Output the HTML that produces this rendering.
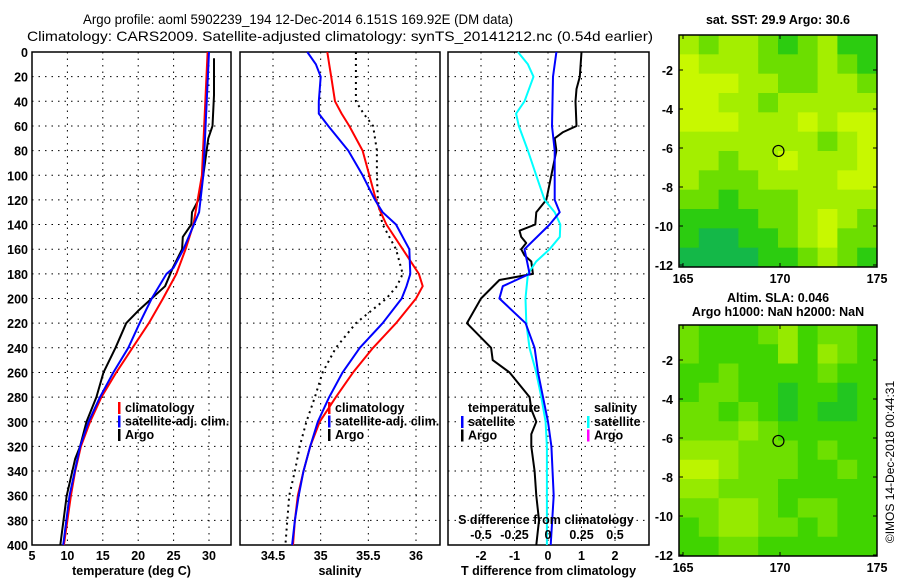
<!DOCTYPE html>
<html><head><meta charset="utf-8">
<style>
html,body{margin:0;padding:0;background:#fff;}
svg{display:block;font-family:"Liberation Sans",sans-serif;}
.t{font-size:12.5px;font-weight:bold;fill:#000;}
.ti{font-size:14px;fill:#000;}
</style></head>
<body>
<svg id="fig" width="900" height="580" viewBox="0 0 900 580" xmlns="http://www.w3.org/2000/svg">
<text class="ti" x="298" y="24" text-anchor="middle" textLength="430" lengthAdjust="spacingAndGlyphs">Argo profile: aoml 5902239_194 12-Dec-2014 6.151S 169.92E (DM data)</text>
<text class="ti" x="340" y="41" text-anchor="middle" textLength="626" lengthAdjust="spacingAndGlyphs">Climatology: CARS2009. Satellite-adjusted climatology: synTS_20141212.nc (0.54d earlier)</text>
<g id="g"></g>
</svg>
<script>
// ---------- data ----------
const depthTicks=[0,20,40,60,80,100,120,140,160,180,200,220,240,260,280,300,320,340,360,380,400];
const tempTicks=[5,10,15,20,25,30];
const salTicks=[34.5,35,35.5,36];
const dTTicks=[-2,-1,0,1,2];
const dSTicks=[-0.5,-0.25,0,0.25,0.5];
const dSTickLabels=['-0.5','-0.25','0','0.25','0.5'];
const lonTicks=[165,170,175];
const latTicks=[-2,-4,-6,-8,-10,-12];

const climTDepth=[0,100,140,160,180,200,220,240,260,280,300,320,340,360,380,400];
const climT=[29.8,29.0,27.8,26.7,25.4,23.5,21.5,19.2,16.9,14.8,13.2,11.9,11.1,10.5,10.0,9.5];
const satTDepth=[0,100,130,160,175,180,200,220,240,260,280,300,320,360,400];
const satT=[30.0,29.2,28.6,26.4,25.0,24.0,21.9,20.2,18.6,16.5,14.6,13.0,11.8,10.3,9.4];
const argoTDepth=[5,35,60,70,100,120,130,140,150,160,175,190,200,210,220,240,260,280,300,320,330,360,400];
const argoT=[30.7,30.7,30.5,29.9,29.2,28.5,27.6,27.5,26.3,26.2,24.9,23.8,21.9,20.0,18.3,16.8,15.1,14.1,12.7,11.8,11.1,9.9,9.0];

const salDepth=[0,10,20,40,50,60,80,100,120,130,140,160,180,190,200,220,240,260,280,300,320,340,360,380,400];
const climS=[35.07,35.09,35.11,35.15,35.22,35.30,35.44,35.51,35.58,35.63,35.69,35.86,36.03,36.07,36.0,35.79,35.55,35.34,35.16,34.99,34.89,34.82,34.76,34.73,34.71];
const satS=[34.86,34.95,35.0,34.98,34.98,35.08,35.29,35.44,35.57,35.65,35.79,35.93,35.94,35.9,35.85,35.65,35.41,35.23,35.09,34.97,34.89,34.82,34.77,34.73,34.70];
const argoS=[35.37,35.37,35.37,35.37,35.45,35.55,35.59,35.59,35.6,35.62,35.65,35.79,35.86,35.8,35.69,35.37,35.16,35.02,34.94,34.85,34.78,34.73,34.67,34.65,34.63];

const dSatTDepth=[0,20,60,80,100,120,130,140,160,180,190,200,220,240,260,280,300,320,360,400];
const dSatT=[0.25,0.15,0.12,0.2,0.2,0.2,0.35,0.05,-0.7,-0.55,-1.35,-1.45,-0.67,-0.4,-0.3,-0.15,0,0.1,0.17,0.08];
const dArgoTDepth=[0,20,30,40,60,65,70,80,120,130,140,145,150,155,160,165,170,180,185,200,220,240,250,260,280,290,300,310,320,340,360,380,400];
const dArgoT=[1.0,0.95,0.85,0.82,0.85,0.45,0.2,0.25,-0.05,-0.35,-0.38,-0.85,-0.8,-0.65,-0.8,-0.7,-0.5,-0.45,-1.45,-2.0,-2.42,-1.7,-1.65,-1.15,-0.55,-0.5,-0.35,-0.5,-0.5,-0.4,-0.35,-0.27,-0.35];
const dSatSDepth=[0,10,20,40,50,60,80,100,120,130,140,150,160,170,180,200,220,240,260,280,300,320,360,400];
const dSatS=[-0.225,-0.15,-0.108,-0.175,-0.238,-0.218,-0.15,-0.088,-0.025,0.05,0.092,0.088,0.012,-0.088,-0.15,-0.168,-0.162,-0.138,-0.088,-0.05,-0.018,-0.008,-0.008,-0.008];

const sstPalette=['#c8f800','#a4ee00','#6cde00','#2ccc10','#14b848'];
const sstGrid=[
[1,2,1,1,2,3,2,1,3,3],[0,1,1,1,2,2,2,1,2,3],[0,0,0,1,1,2,2,1,1,2],[0,0,1,1,2,1,1,1,1,1],
[0,0,0,1,1,1,0,1,0,0],[1,1,1,1,1,1,1,2,1,0],[1,1,2,1,1,0,1,1,1,0],[1,2,2,2,1,1,1,1,0,0],
[2,2,3,2,2,2,1,1,1,1],[3,3,3,3,2,2,1,0,1,2],[3,4,4,3,3,2,1,0,2,2],[4,4,4,4,3,3,2,1,2,3]];
const slaPalette=['#bcf400','#96ea00','#6ee000','#40d400','#22c620'];
const slaGrid=[
[2,3,3,3,2,1,3,2,2,3],[2,3,3,3,3,1,3,1,2,3],[3,3,2,3,3,3,3,2,3,3],[3,2,2,3,3,4,3,3,4,3],
[2,2,3,2,3,4,3,4,4,3],[2,2,2,1,2,3,3,3,3,3],[1,1,1,2,2,2,3,2,3,3],[0,0,1,2,2,2,3,3,2,3],
[1,1,2,2,2,3,3,3,3,3],[2,2,1,1,2,3,2,2,3,3],[3,2,1,1,2,2,3,2,3,3],[3,3,2,2,3,3,3,3,3,3]];
const floatLon=169.92, floatLat=-6.151;

// ---------- drawing ----------
const NS='http://www.w3.org/2000/svg';
const G=document.getElementById('g');
function mk(tag,at,parent){const e=document.createElementNS(NS,tag);for(const k in at)e.setAttribute(k,at[k]);(parent||G).appendChild(e);return e;}
const TOP=52,BOT=545;
const yD=d=>TOP+d/400*(BOT-TOP);
const xT=t=>32+(t-5)*(209-32)/25;
const xS=s=>273+(s-34.5)*(416-273)/1.5;
const xdT=v=>548+v*(614-480)/4;
const xdS=v=>xdT(v*4);

function panel(name,x0,x1,xTicks,xf,labels,xlab,showDepth){
  for(const d of depthTicks){ if(d>0&&d<400){
    const l=mk('line',{x1:x0,x2:x1,y1:yD(d),y2:yD(d),stroke:'#000','stroke-width':1,'stroke-dasharray':'1.5,5'});
    }
    if(showDepth){const t=mk('text',{x:x0-4,y:yD(d)+5,'text-anchor':'end',class:'t'});t.textContent=d;
      }
  }
  xTicks.forEach((v,i)=>{const x=xf(v);
    const l=mk('line',{x1:x,x2:x,y1:TOP,y2:BOT,stroke:'#000','stroke-width':1,'stroke-dasharray':'1.5,5'});
    
    const t=mk('text',{x:x,y:BOT+15,'text-anchor':'middle',class:'t'});t.textContent=labels[i];
    });
  const r=mk('rect',{x:x0,y:TOP,width:x1-x0,height:BOT-TOP,fill:'none',stroke:'#000','stroke-width':1.5});
  
  const t=mk('text',{x:(x0+x1)/2,y:575,'text-anchor':'middle',class:'t'});t.textContent=xlab;
  
}
function series(name,depths,vals,xf,color,w,dash){
  const pts=depths.map((d,i)=>xf(vals[i]).toFixed(1)+','+yD(d).toFixed(1)).join(' ');
  const p=mk('polyline',{points:pts,fill:'none',stroke:color,'stroke-width':w,'stroke-linejoin':'round'});
  if(dash)p.setAttribute('stroke-dasharray',dash);
  
}
function legend(x,y,items){
  items.forEach((it,i)=>{const yy=y+i*13.5;
    const b=mk('rect',{x:x,y:yy-10,width:2.5,height:12,fill:it[1]});
    
    const t=mk('text',{x:x+7,y:yy,class:'t'});t.textContent=it[0];
    });
}

// panel 1
panel('temp-panel',32,231,tempTicks,xT,tempTicks.map(String),'temperature (deg C)',true);
series('argo-temperature',argoTDepth,argoT,xT,'#000',2);
series('climatology-temperature',climTDepth,climT,xT,'#f00',2);
series('satellite-temperature',satTDepth,satT,xT,'#00f',2);
legend(118,412,[['climatology','#f00'],['satellite-adj. clim.','#00f'],['Argo','#000']]);

// panel 2
panel('salinity-panel',240,440,salTicks,xS,['34.5','35','35.5','36'],'salinity',false);
series('argo-salinity',salDepth,argoS,xS,'#000',2,'2,4');
series('climatology-salinity',salDepth,climS,xS,'#f00',2);
series('satellite-salinity',salDepth,satS,xS,'#00f',2);
legend(328,412,[['climatology','#f00'],['satellite-adj. clim.','#00f'],['Argo','#000']]);

// panel 3
panel('difference-panel',448,649,dTTicks,xdT,dTTicks.map(String),'T difference from climatology',false);
series('argo-t-difference',dArgoTDepth,dArgoT,xdT,'#000',2);
series('satellite-s-difference',dSatSDepth,dSatS,xdS,'#0ff',2);
series('satellite-t-difference',dSatTDepth,dSatT,xdT,'#00f',2);
{const t=mk('text',{x:468,y:412,class:'t'});t.textContent='temperature';}
{const t=mk('text',{x:594,y:412,class:'t'});t.textContent='salinity';}
legend(461,426,[['satellite','#00f'],['Argo','#000']]);
legend(587,426,[['satellite','#0ff'],['Argo','#f0f']]);
{const t=mk('text',{x:546,y:524,'text-anchor':'middle',class:'t'});t.textContent='S difference from climatology';}
dSTicks.forEach((v,i)=>{const t=mk('text',{x:xdS(v),y:539,'text-anchor':'middle',class:'t'});t.textContent=dSTickLabels[i];
  });

// maps
function map(name,top,bot,grid,pal){
  const x0=679,x1=877;
  const lat2y=la=>{const yA=top+ (name==='sst-map'?35:35);return 0;};
  const yL=la=> (name==='sst-map') ? 70+(-2-la)*(265-70)/10 : 360+(-2-la)*(555-360)/10;
  const xL=lo=>683+(lo-165)*(877-683)/10;
  const rows=grid.length,cols=grid[0].length,cw=(x1-x0)/cols,ch=(bot-top)/rows;
  grid.forEach((row,r)=>row.forEach((v,c)=>{
    const e=mk('rect',{x:x0+c*cw,y:top+r*ch,width:cw+0.5,height:ch+0.5,fill:pal[v]});
    }));
  const fr=mk('rect',{x:x0,y:top,width:x1-x0,height:bot-top,fill:'none',stroke:'#000','stroke-width':1.5});
  
  lonTicks.forEach(lo=>{const x=xL(lo);
    mk('line',{x1:x,x2:x,y1:top,y2:top+4,stroke:'#000'});mk('line',{x1:x,x2:x,y1:bot,y2:bot-4,stroke:'#000'});
    const t=mk('text',{x:x,y:bot+16,'text-anchor':'middle',class:'t'});t.textContent=lo;
    });
  latTicks.forEach(la=>{const y=yL(la);
    mk('line',{x1:x0,x2:x0+4,y1:y,y2:y,stroke:'#000'});mk('line',{x1:x1,x2:x1-4,y1:y,y2:y,stroke:'#000'});
    const t=mk('text',{x:x0-6,y:y+5,'text-anchor':'end',class:'t'});t.textContent=la;
    });
  const c=mk('circle',{cx:xL(floatLon),cy:yL(floatLat),r:5.5,fill:'none',stroke:'#000','stroke-width':1.2});
  
}
map('sst-map',35,267,sstGrid,sstPalette);
map('sla-map',325,556,slaGrid,slaPalette);
{const t=mk('text',{x:778,y:24,'text-anchor':'middle',class:'t'});t.textContent='sat. SST: 29.9 Argo: 30.6';}
{const t=mk('text',{x:778,y:302,'text-anchor':'middle',class:'t'});t.textContent='Altim. SLA: 0.046';}
{const t=mk('text',{x:778,y:316,'text-anchor':'middle',class:'t'});t.textContent='Argo h1000: NaN h2000: NaN';}
{const t=mk('text',{x:0,y:0,'text-anchor':'middle',style:'font-size:12px',transform:'translate(894,462) rotate(-90)'});t.textContent='©IMOS 14-Dec-2018 00:44:31';}
</script>
</body></html>
